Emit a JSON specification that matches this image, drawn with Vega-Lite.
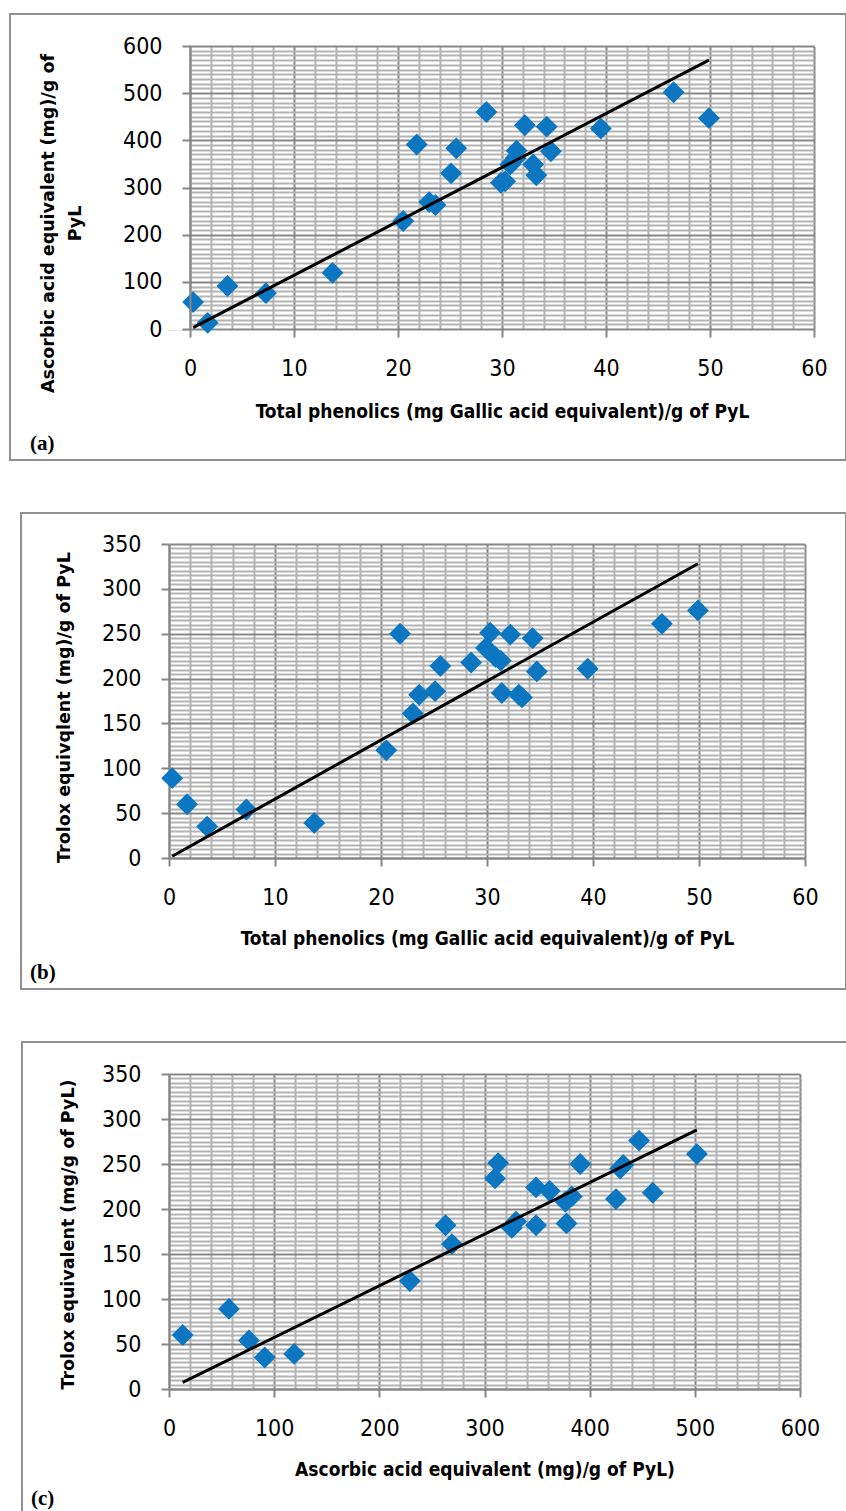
{
  "$schema": "https://vega.github.io/schema/vega-lite/v6.json",
  "background": "white",
  "padding": {"left": 8, "top": 13, "right": 0, "bottom": 0},
  "spacing": 50,
  "bounds": "full",
  "config": {
    "view": {"stroke": null},
    "axis": {
      "domainColor": "#868686", "domainWidth": 2,
      "tickColor": "#868686", "tickWidth": 2, "tickSize": 8,
      "labelColor": "black", "labelFont": "DejaVu Sans Condensed, DejaVu Sans, sans-serif",
      "labelFontSize": 23, "labelFlush": false, "labelOverlap": false,
      "titleColor": "black"
    }
  },
  "datasets": {
    "samples": [
      {"tp": 0.3, "aa": 57, "te": 89},
      {"tp": 1.7, "aa": 13, "te": 60},
      {"tp": 3.6, "aa": 91, "te": 35},
      {"tp": 7.3, "aa": 76, "te": 54},
      {"tp": 13.7, "aa": 119, "te": 39},
      {"tp": 20.5, "aa": 229, "te": 120},
      {"tp": 21.8, "aa": 391, "te": 250},
      {"tp": 23.0, "aa": 269, "te": 161},
      {"tp": 23.6, "aa": 263, "te": 182},
      {"tp": 25.1, "aa": 330, "te": 186},
      {"tp": 25.6, "aa": 383, "te": 214},
      {"tp": 28.5, "aa": 460, "te": 218},
      {"tp": 29.9, "aa": 310, "te": 234},
      {"tp": 30.3, "aa": 313, "te": 251},
      {"tp": 30.8, "aa": 349, "te": 224},
      {"tp": 31.3, "aa": 362, "te": 220},
      {"tp": 31.4, "aa": 378, "te": 184},
      {"tp": 32.2, "aa": 432, "te": 249},
      {"tp": 33.0, "aa": 349, "te": 182},
      {"tp": 33.3, "aa": 326, "te": 179},
      {"tp": 34.3, "aa": 429, "te": 245},
      {"tp": 34.7, "aa": 377, "te": 208},
      {"tp": 39.5, "aa": 425, "te": 211},
      {"tp": 46.5, "aa": 502, "te": 261},
      {"tp": 49.9, "aa": 447, "te": 276}
    ],
    "trend_a": [{"x": 0.3, "y": 3}, {"x": 49.9, "y": 570}],
    "trend_b": [{"x": 0.3, "y": 2}, {"x": 49.9, "y": 328}],
    "trend_c": [{"x": 13, "y": 7.4}, {"x": 502, "y": 288}]
  },
  "vconcat": [
    {
      "width": 645, "height": 283,
      "resolve": {"axis": {"x": "independent", "y": "independent"}},
      "layer": [
        {
          "data": {"values": [{"part": "frame"}]},
          "mark": {"type": "rect", "filled": false, "color": "#8f8f8f", "strokeWidth": 2},
          "encoding": {
            "x": {"datum": -17.31, "type": "quantitative", "scale": {"domain": [-2.02, 60], "nice": false, "zero": false}, "axis": null},
            "x2": {"datum": 63.08},
            "y": {"datum": 667.8, "type": "quantitative", "scale": {"domain": [0, 600], "nice": false, "zero": false}, "axis": null},
            "y2": {"datum": -277.7}
          }
        },
        {
          "data": {"name": "samples"},
          "mark": {"type": "point", "opacity": 0},
          "encoding": {
            "x": {"field": "tp", "type": "quantitative", "scale": {"domain": [-2.02, 60], "nice": false, "zero": false},
              "axis": {"orient": "top", "values": [2,4,6,8,12,14,16,18,22,24,26,28,32,34,36,38,42,44,46,48,52,54,56,58], "grid": true, "gridColor": "#b3b3b3", "gridWidth": 2, "labels": false, "ticks": false, "domain": false, "title": null}},
            "y": {"field": "aa", "type": "quantitative", "scale": {"domain": [0, 600], "nice": false, "zero": false},
              "axis": {"orient": "right", "values": [10,20,30,40,50,60,70,80,90,110,120,130,140,150,160,170,180,190,210,220,230,240,250,260,270,280,290,310,320,330,340,350,360,370,380,390,410,420,430,440,450,460,470,480,490,510,520,530,540,550,560,570,580,590], "grid": true, "gridColor": "#b3b3b3", "gridWidth": 2, "labels": false, "ticks": false, "domain": false, "title": null}}
          }
        },
        {
          "data": {"name": "samples"},
          "mark": {"type": "point", "opacity": 0},
          "encoding": {
            "x": {"field": "tp", "type": "quantitative", "scale": {"domain": [-2.02, 60], "nice": false, "zero": false}, "axis": null},
            "y": {"field": "aa", "type": "quantitative", "scale": {"domain": [0, 600], "nice": false, "zero": false},
              "axis": {"orient": "right", "values": [0,100,200,300,400,500,600], "grid": true, "gridColor": "#878787", "gridWidth": 2, "labels": false, "ticks": false, "domain": false, "title": null}}
          }
        },
        {
          "data": {"values": [{"part": "cover"}]},
          "mark": {"type": "rect", "color": "white", "opacity": 1},
          "encoding": {
            "x": {"datum": -2.02, "type": "quantitative", "scale": {"domain": [-2.02, 60], "nice": false, "zero": false}, "axis": null},
            "x2": {"datum": -0.1},
            "y": {"datum": 603, "type": "quantitative", "scale": {"domain": [0, 600], "nice": false, "zero": false}, "axis": null},
            "y2": {"datum": -3}
          }
        },
        {
          "data": {"name": "samples"},
          "mark": {"type": "point", "shape": "diamond", "filled": true, "size": 480, "color": "#0C77C0", "opacity": 1},
          "encoding": {
            "x": {"field": "tp", "type": "quantitative", "scale": {"domain": [-2.02, 60], "nice": false, "zero": false},
              "axis": {"values": [0,10,20,30,40,50,60], "grid": true, "gridColor": "#878787", "gridWidth": 2, "domain": false,
                "labelPadding": 31, "labelBaseline": "middle",
                "title": "Total phenolics (mg Gallic acid equivalent)/g of PyL",
                "titleFont": "DejaVu Sans Condensed, DejaVu Sans, sans-serif", "titleFontSize": 19, "titleFontWeight": "bold",
                "titleX": 333, "titleY": 82, "titleBaseline": "middle"}},
            "y": {"field": "aa", "type": "quantitative", "scale": {"domain": [0, 600], "nice": false, "zero": false},
              "axis": {"values": [0,100,200,300,400,500,600], "grid": false, "offset": -21, "zindex": 1,
                "labelPadding": 20,
                "title": ["Ascorbic acid equivalent (mg)/g of", "PyL"],
                "titleFont": "DejaVu Sans", "titleFontSize": 17.5, "titleFontWeight": "bold", "titleLineHeight": 27,
                "titleX": -142, "titleY": 177, "titleBaseline": "middle", "titleAlign": "center", "titleAngle": 270}}
          }
        },
        {
          "data": {"name": "trend_a"},
          "mark": {"type": "line", "color": "black", "strokeWidth": 3},
          "encoding": {
            "x": {"field": "x", "type": "quantitative", "scale": {"domain": [-2.02, 60], "nice": false, "zero": false}, "axis": null},
            "y": {"field": "y", "type": "quantitative", "scale": {"domain": [0, 600], "nice": false, "zero": false}, "axis": null}
          }
        },
        {
          "data": {"values": [{"label": "(a)"}]},
          "mark": {"type": "text", "font": "Liberation Serif", "fontWeight": "bold", "fontSize": 21, "align": "left", "baseline": "middle", "color": "black"},
          "encoding": {
            "x": {"datum": -15.38, "type": "quantitative", "scale": {"domain": [-2.02, 60], "nice": false, "zero": false}, "axis": null},
            "y": {"datum": -243.8, "type": "quantitative", "scale": {"domain": [0, 600], "nice": false, "zero": false}, "axis": null},
            "text": {"field": "label"}
          }
        }
      ]
    },
    {
      "width": 636, "height": 314,
      "resolve": {"axis": {"x": "independent", "y": "independent"}},
      "layer": [
        {
          "data": {"values": [{"part": "frame"}]},
          "mark": {"type": "rect", "filled": false, "color": "#8f8f8f", "strokeWidth": 2},
          "encoding": {
            "x": {"datum": -13.96, "type": "quantitative", "scale": {"domain": [0, 60], "nice": false, "zero": false}, "axis": null},
            "x2": {"datum": 63.87},
            "y": {"datum": 384.6, "type": "quantitative", "scale": {"domain": [0, 350], "nice": false, "zero": false}, "axis": null},
            "y2": {"datum": -146.0}
          }
        },
        {
          "data": {"name": "samples"},
          "mark": {"type": "point", "opacity": 0},
          "encoding": {
            "x": {"field": "tp", "type": "quantitative", "scale": {"domain": [0, 60], "nice": false, "zero": false},
              "axis": {"orient": "top", "values": [2,4,6,8,12,14,16,18,22,24,26,28,32,34,36,38,42,44,46,48,52,54,56,58], "grid": true, "gridColor": "#b3b3b3", "gridWidth": 2, "labels": false, "ticks": false, "domain": false, "title": null}},
            "y": {"field": "te", "type": "quantitative", "scale": {"domain": [0, 350], "nice": false, "zero": false},
              "axis": {"orient": "right", "values": [5,10,15,20,25,30,35,40,45,55,60,65,70,75,80,85,90,95,105,110,115,120,125,130,135,140,145,155,160,165,170,175,180,185,190,195,205,210,215,220,225,230,235,240,245,255,260,265,270,275,280,285,290,295,305,310,315,320,325,330,335,340,345], "grid": true, "gridColor": "#b3b3b3", "gridWidth": 2, "labels": false, "ticks": false, "domain": false, "title": null}}
          }
        },
        {
          "data": {"name": "samples"},
          "mark": {"type": "point", "shape": "diamond", "filled": true, "size": 480, "color": "#0C77C0", "opacity": 1},
          "encoding": {
            "x": {"field": "tp", "type": "quantitative", "scale": {"domain": [0, 60], "nice": false, "zero": false},
              "axis": {"values": [0,10,20,30,40,50,60], "grid": true, "gridColor": "#878787", "gridWidth": 2,
                "labelPadding": 31, "labelBaseline": "middle",
                "title": "Total phenolics (mg Gallic acid equivalent)/g of PyL",
                "titleFont": "DejaVu Sans Condensed, DejaVu Sans, sans-serif", "titleFontSize": 19, "titleFontWeight": "bold",
                "titleY": 80, "titleBaseline": "middle"}},
            "y": {"field": "te", "type": "quantitative", "scale": {"domain": [0, 350], "nice": false, "zero": false},
              "axis": {"values": [0,50,100,150,200,250,300,350], "grid": true, "gridColor": "#878787", "gridWidth": 2,
                "labelPadding": 20,
                "title": "Trolox equivqlent (mg)/g of PyL",
                "titleFont": "DejaVu Sans", "titleFontSize": 17.5, "titleFontWeight": "bold",
                "titleX": -105, "titleY": 163, "titleBaseline": "middle", "titleAlign": "center", "titleAngle": 270}}
          }
        },
        {
          "data": {"name": "trend_b"},
          "mark": {"type": "line", "color": "black", "strokeWidth": 3},
          "encoding": {
            "x": {"field": "x", "type": "quantitative", "scale": {"domain": [0, 60], "nice": false, "zero": false}, "axis": null},
            "y": {"field": "y", "type": "quantitative", "scale": {"domain": [0, 350], "nice": false, "zero": false}, "axis": null}
          }
        },
        {
          "data": {"values": [{"label": "(b)"}]},
          "mark": {"type": "text", "font": "Liberation Serif", "fontWeight": "bold", "fontSize": 21, "align": "left", "baseline": "middle", "color": "black"},
          "encoding": {
            "x": {"datum": -13.11, "type": "quantitative", "scale": {"domain": [0, 60], "nice": false, "zero": false}, "axis": null},
            "y": {"datum": -128.2, "type": "quantitative", "scale": {"domain": [0, 350], "nice": false, "zero": false}, "axis": null},
            "text": {"field": "label"}
          }
        }
      ]
    },
    {
      "width": 631, "height": 315,
      "resolve": {"axis": {"x": "independent", "y": "independent"}},
      "layer": [
        {
          "data": {"values": [{"part": "frame"}]},
          "mark": {"type": "rect", "filled": false, "color": "#8f8f8f", "strokeWidth": 2},
          "encoding": {
            "x": {"datum": -139.8, "type": "quantitative", "scale": {"domain": [0, 600], "nice": false, "zero": false}, "axis": null},
            "x2": {"datum": 644.7},
            "y": {"datum": 385.6, "type": "quantitative", "scale": {"domain": [0, 350], "nice": false, "zero": false}, "axis": null},
            "y2": {"datum": -158.9}
          }
        },
        {
          "data": {"name": "samples"},
          "mark": {"type": "point", "opacity": 0},
          "encoding": {
            "x": {"field": "aa", "type": "quantitative", "scale": {"domain": [0, 600], "nice": false, "zero": false},
              "axis": {"orient": "top", "values": [20,40,60,80,120,140,160,180,220,240,260,280,320,340,360,380,420,440,460,480,520,540,560,580], "grid": true, "gridColor": "#b3b3b3", "gridWidth": 2, "labels": false, "ticks": false, "domain": false, "title": null}},
            "y": {"field": "te", "type": "quantitative", "scale": {"domain": [0, 350], "nice": false, "zero": false},
              "axis": {"orient": "right", "values": [5,10,15,20,25,30,35,40,45,55,60,65,70,75,80,85,90,95,105,110,115,120,125,130,135,140,145,155,160,165,170,175,180,185,190,195,205,210,215,220,225,230,235,240,245,255,260,265,270,275,280,285,290,295,305,310,315,320,325,330,335,340,345], "grid": true, "gridColor": "#b3b3b3", "gridWidth": 2, "labels": false, "ticks": false, "domain": false, "title": null}}
          }
        },
        {
          "data": {"name": "samples"},
          "mark": {"type": "point", "shape": "diamond", "filled": true, "size": 480, "color": "#0C77C0", "opacity": 1},
          "encoding": {
            "x": {"field": "aa", "type": "quantitative", "scale": {"domain": [0, 600], "nice": false, "zero": false},
              "axis": {"values": [0,100,200,300,400,500,600], "grid": true, "gridColor": "#878787", "gridWidth": 2,
                "labelPadding": 31, "labelBaseline": "middle",
                "title": "Ascorbic acid equivalent (mg)/g of PyL)",
                "titleFont": "DejaVu Sans Condensed, DejaVu Sans, sans-serif", "titleFontSize": 19, "titleFontWeight": "bold",
                "titleY": 80, "titleBaseline": "middle"}},
            "y": {"field": "te", "type": "quantitative", "scale": {"domain": [0, 350], "nice": false, "zero": false},
              "axis": {"values": [0,50,100,150,200,250,300,350], "grid": true, "gridColor": "#878787", "gridWidth": 2,
                "labelPadding": 20,
                "title": "Trolox equivalent (mg/g of PyL)",
                "titleFont": "DejaVu Sans", "titleFontSize": 17.5, "titleFontWeight": "bold",
                "titleX": -101, "titleY": 160, "titleBaseline": "middle", "titleAlign": "center", "titleAngle": 270}}
          }
        },
        {
          "data": {"name": "trend_c"},
          "mark": {"type": "line", "color": "black", "strokeWidth": 3},
          "encoding": {
            "x": {"field": "x", "type": "quantitative", "scale": {"domain": [0, 600], "nice": false, "zero": false}, "axis": null},
            "y": {"field": "y", "type": "quantitative", "scale": {"domain": [0, 350], "nice": false, "zero": false}, "axis": null}
          }
        },
        {
          "data": {"values": [{"label": "(c)"}]},
          "mark": {"type": "text", "font": "Liberation Serif", "fontWeight": "bold", "fontSize": 21, "align": "left", "baseline": "middle", "color": "black"},
          "encoding": {
            "x": {"datum": -131.2, "type": "quantitative", "scale": {"domain": [0, 600], "nice": false, "zero": false}, "axis": null},
            "y": {"datum": -122.2, "type": "quantitative", "scale": {"domain": [0, 350], "nice": false, "zero": false}, "axis": null},
            "text": {"field": "label"}
          }
        }
      ]
    }
  ]
}
